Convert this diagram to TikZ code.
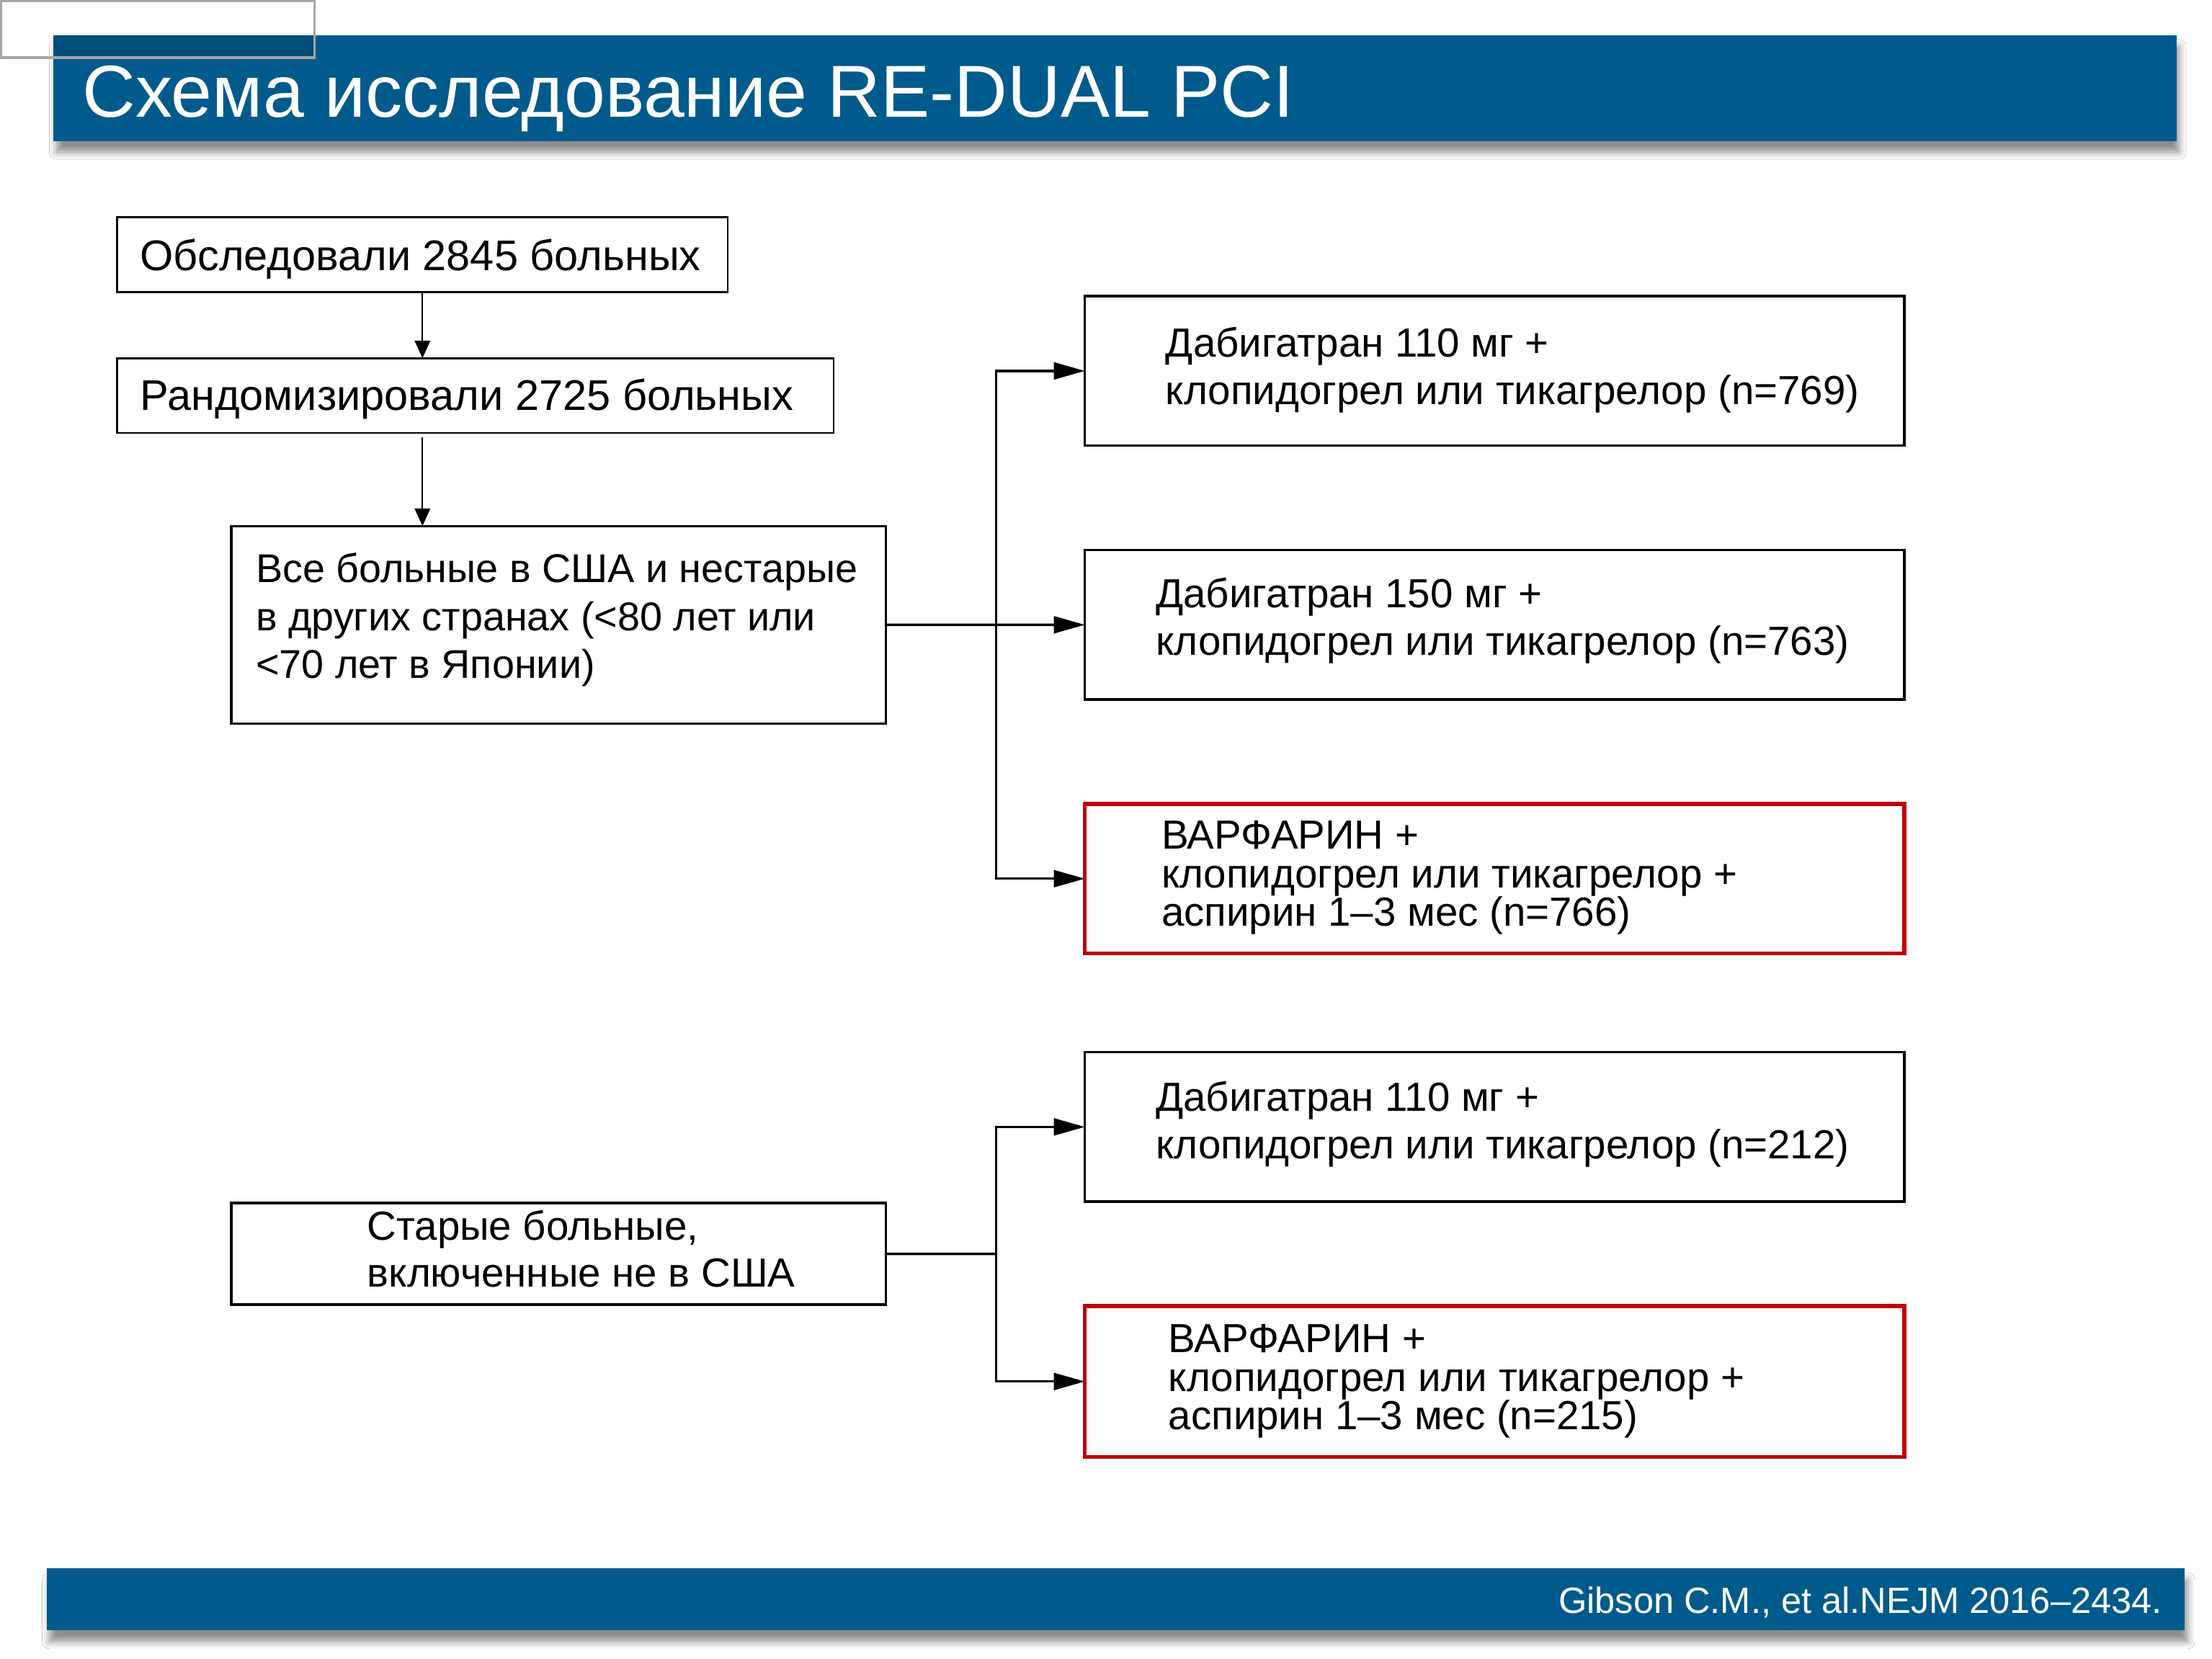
\documentclass[tikz,border=0pt]{standalone}
\usepackage{fontspec}
\setmainfont{Liberation Sans}
\usetikzlibrary{arrows.meta,shadows.blur}
\definecolor{barblue}{RGB}{0,91,140}
\definecolor{boxred}{RGB}{190,0,10}
\newcommand\mlines[2]{\vtop{\baselineskip=#1\lineskiplimit=-\maxdimen\lineskip=0pt #2}}
\begin{document}
\begin{tikzpicture}[x=0.02cm,y=-0.02cm,
  box/.style={draw=black, line width=1pt, fill=white, inner sep=0pt, outer sep=0pt, anchor=north west},
  thinbox/.style={box, line width=0.75pt},
  redbox/.style={box, draw=boxred, line width=1.5pt},
  lbl/.style={anchor=base west, inner sep=0pt, font=\fontsize{16.4}{19}\selectfont},
  biglbl/.style={lbl, font=\fontsize{17.3}{20}\selectfont},
  arr/.style={line width=1pt, -{Triangle[length=0.44cm,width=0.24cm]}},
  thinarr/.style={line width=0.6pt, -{Triangle[length=0.25cm,width=0.22cm]}},
  line/.style={line width=1pt},
  bar/.style={fill=barblue, inner sep=0pt, outer sep=0pt, anchor=north west,
    blur shadow={shadow xshift=0.04cm, shadow yshift=-0.16cm, shadow opacity=45, shadow blur radius=0.1cm}}
]
\useasboundingbox (0,0) rectangle (1568,1176);
\fill[white] (0,0) rectangle (1568,1176);

% title bar
\node[bar, minimum width=30.1cm, minimum height=1.5cm] (titlebar) at (38,25) {};
\fill[black, fill opacity=0.12] (38,25) rectangle (222,40);
\node[draw=gray!70, line width=1pt, inner sep=0pt, anchor=north west,
  minimum width=4.44cm, minimum height=0.8cm] (corner) at (0,0) {};
\node[anchor=base west, inner sep=0pt, text=white, font=\fontsize{29.7}{32}\selectfont] (title) at (58,83) {Схема исследование RE-DUAL PCI};

% footer bar
\node[bar, minimum width=30.32cm, minimum height=0.88cm] (footbar) at (33,1112) {};
\node[anchor=base east, inner sep=0pt, text=white, font=\fontsize{14.7}{16}\selectfont] (cite) at (1533,1144) {Gibson C.M., et al.NEJM 2016–2434.};

% left boxes
\node[thinbox, minimum width=8.66cm, minimum height=1.06cm] (b1) at (83,154) {};
\node[biglbl] (t1) at (99,192) {Обследовали 2845 больных};
\node[thinbox, minimum width=10.16cm, minimum height=1.06cm] (b2) at (83,254) {};
\node[biglbl] (t2) at (99,291) {Рандомизировали 2725 больных};
\node[box, minimum width=9.28cm, minimum height=2.8cm] (b3) at (164,373) {};
\node[lbl, font=\fontsize{16.2}{19}\selectfont] (t3) at (181,413) {\mlines{19.3pt}{\hbox{Все больные в США и нестарые}\hbox{в других странах (<80 лет или}\hbox{<70 лет в Японии)}}};
\node[box, minimum width=9.28cm, minimum height=1.44cm] (b4) at (164,853) {};
\node[lbl] (t4) at (260,879) {\mlines{18.9pt}{\hbox{Старые больные,}\hbox{включенные не в США}}};

% right boxes
\node[box, minimum width=11.62cm, minimum height=2.12cm] (r1) at (769,210) {};
\node[lbl] (tr1) at (826,253) {\mlines{19.2pt}{\hbox{Дабигатран 110 мг +}\hbox{клопидогрел или тикагрелор (n=769)}}};
\node[box, minimum width=11.62cm, minimum height=2.12cm] (r2) at (769,390) {};
\node[lbl] (tr2) at (819,431) {\mlines{19.2pt}{\hbox{Дабигатран 150 мг +}\hbox{клопидогрел или тикагрелор (n=763)}}};
\node[redbox, minimum width=11.62cm, minimum height=2.12cm] (r3) at (769,570) {};
\node[lbl] (tr3) at (823,602) {\mlines{15.6pt}{\hbox{ВАРФАРИН +}\hbox{клопидогрел или тикагрелор +}\hbox{аспирин 1–3 мес (n=766)}}};
\node[box, minimum width=11.62cm, minimum height=2.12cm] (r4) at (769,746) {};
\node[lbl] (tr4) at (819,788) {\mlines{19.2pt}{\hbox{Дабигатран 110 мг +}\hbox{клопидогрел или тикагрелор (n=212)}}};
\node[redbox, minimum width=11.62cm, minimum height=2.14cm] (r5) at (769,926) {};
\node[lbl] (tr5) at (828,959) {\mlines{15.6pt}{\hbox{ВАРФАРИН +}\hbox{клопидогрел или тикагрелор +}\hbox{аспирин 1–3 мес (n=215)}}};

% connectors
\coordinate (j1) at (706,443);
\coordinate (j2) at (706,889);
\draw[thinarr] (b1.south) -- (b1.south |- b2.north);
\draw[thinarr, shorten <=0.06cm] (b1.south |- b2.south) -- (b1.south |- b3.north);
\draw[arr] (b3.east) -- (r2.west);
\draw[arr] (j1) |- (r1.west);
\draw[arr] (j1) |- (r3.west);
\draw[line] (b4.east) -- (j2);
\draw[arr] (j2) |- (r4.west);
\draw[arr] (j2) |- (r5.west);
\end{tikzpicture}
\end{document}
